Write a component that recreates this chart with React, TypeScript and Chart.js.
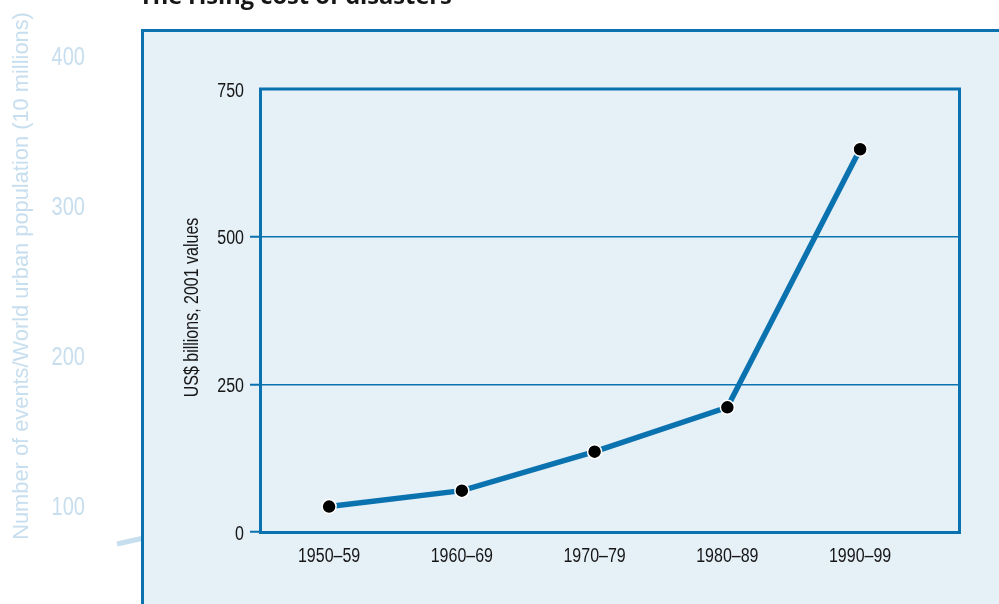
import React, { useEffect, useRef } from "react";
import { Chart, registerables } from "chart.js";

Chart.register(...registerables);

const chartTitle = "The rising cost of disasters";
const categories = ["1950–59", "1960–69", "1970–79", "1980–89", "1990–99"];
const costValues = [43, 70, 136, 211, 648];
const yTickValues = [0, 250, 500, 750];
const yAxisTitle = "US$ billions, 2001 values";
const bgAxisTicks = [400, 300, 200, 100];
const bgAxisTitle = "Number of events/World urban population (10 millions)";

const BLUE = "#0b72b0";
const PANEL = "#e5f0f7";
const FADED = "#c7deef";
const TEXT = "#161616";
const SANS = '"Liberation Sans", Arial, sans-serif';
const NARROW_X = 0.8; // horizontal squeeze to imitate a condensed face

function narrowText(
  ctx: CanvasRenderingContext2D,
  text: string,
  x: number,
  y: number,
  align: CanvasTextAlign,
  rotate = 0
) {
  ctx.save();
  ctx.translate(x, y);
  if (rotate) ctx.rotate(rotate);
  ctx.scale(NARROW_X, 1);
  ctx.textAlign = align;
  ctx.textBaseline = "alphabetic";
  ctx.fillText(text, 0, 0);
  ctx.restore();
}

const decorPlugin = {
  id: "decor",
  beforeDraw(chart: any) {
    const { ctx } = chart;
    ctx.save();
    ctx.fillStyle = "#ffffff";
    ctx.fillRect(0, 0, chart.width, chart.height);

    // faded background axis (behind the panel)
    ctx.fillStyle = FADED;
    ctx.font = `26px ${SANS}`;
    bgAxisTicks.forEach((v) => {
      ctx.save();
      ctx.translate(85, 64.5 + (400 - v) * 1.5);
      ctx.scale(0.77, 1);
      ctx.textAlign = "right";
      ctx.textBaseline = "alphabetic";
      ctx.fillText(String(v), 0, 0);
      ctx.restore();
    });

    ctx.save();
    ctx.translate(22, 276);
    ctx.rotate(-Math.PI / 2);
    ctx.font = `22px ${SANS}`;
    const w = ctx.measureText(bgAxisTitle).width;
    const fs = (22 * 528) / w;
    ctx.font = `${fs}px ${SANS}`;
    ctx.textAlign = "center";
    ctx.textBaseline = "middle";
    ctx.fillText(bgAxisTitle, 0, 0);
    ctx.restore();

    ctx.strokeStyle = FADED;
    ctx.lineWidth = 5;
    ctx.beginPath();
    ctx.moveTo(117, 544);
    ctx.lineTo(146, 537.5);
    ctx.stroke();

    // panel
    ctx.fillStyle = PANEL;
    ctx.fillRect(142.5, 30.5, 1000, 1000);
    ctx.strokeStyle = BLUE;
    ctx.lineWidth = 3;
    ctx.strokeRect(142.5, 30.5, 1000, 1000);

    // title (cut off at top)
    ctx.fillStyle = TEXT;
    ctx.font = `bold 20px "Open Sans", sans-serif`;
    const tw = ctx.measureText(chartTitle).width;
    const tfs = (20 * 313) / tw;
    ctx.font = `bold ${tfs}px "Open Sans", sans-serif`;
    ctx.textAlign = "left";
    ctx.textBaseline = "alphabetic";
    ctx.fillText(chartTitle, 139, 4);
    ctx.restore();
  },
  beforeDatasetsDraw(chart: any) {
    const { ctx, chartArea: a } = chart;
    ctx.save();
    ctx.strokeStyle = BLUE;
    ctx.lineWidth = 3;
    ctx.strokeRect(a.left + 0.5, a.top, a.right - a.left - 1, a.bottom - a.top + 0.5);
    ctx.restore();
  },
  afterDraw(chart: any) {
    const { ctx, chartArea: a } = chart;
    const xs = chart.scales.x;
    const ys = chart.scales.y;
    ctx.save();
    ctx.fillStyle = TEXT;
    ctx.font = `20px ${SANS}`;
    ys.ticks.forEach((t: any) => {
      const py = ys.getPixelForValue(t.value);
      narrowText(ctx, String(t.value), a.left - 16, py + 7.5, "right");
    });
    xs.ticks.forEach((t: any) => {
      const px = xs.getPixelForValue(t.value);
      narrowText(ctx, categories[t.value], px, a.bottom + 30, "center");
    });
    narrowText(ctx, yAxisTitle, 198, (a.top + a.bottom) / 2 - 3, "center", -Math.PI / 2);
    ctx.restore();
  },
};

export default function App() {
  const ref = useRef<HTMLCanvasElement>(null);
  useEffect(() => {
    const chart = new Chart(ref.current as HTMLCanvasElement, {
      type: "line",
      data: {
        datasets: [
          {
            data: categories.map((c, i) => ({ x: i, y: costValues[i] })),
            borderColor: BLUE,
            borderWidth: 5.5,
            pointRadius: 7,
            pointBackgroundColor: "#000000",
            pointBorderColor: "#ffffff",
            pointBorderWidth: 1.5,
            tension: 0,
          },
        ],
      },
      options: {
        responsive: false,
        animation: false,
        events: [],
        layout: { padding: { left: 170, top: 89, right: 39, bottom: 0 } },
        plugins: { legend: { display: false }, tooltip: { enabled: false } },
        scales: {
          x: {
            type: "linear",
            min: -0.5205,
            max: 4.7525,
            afterFit: (s: any) => {
              s.height = 72;
            },
            afterBuildTicks: (s: any) => {
              s.ticks = categories.map((_, i) => ({ value: i }));
            },
            grid: { display: false },
            border: { display: false },
            ticks: { display: false },
          },
          y: {
            min: 0,
            max: 750,
            afterFit: (s: any) => {
              s.width = 90;
            },
            afterBuildTicks: (s: any) => {
              s.ticks = yTickValues.map((v) => ({ value: v }));
            },
            grid: {
              color: (c: any) =>
                c.tick && (c.tick.value === 0 || c.tick.value === 750) ? "rgba(0,0,0,0)" : BLUE,
              lineWidth: 1.5,
              tickLength: 10,
              tickWidth: 2,
              tickColor: (c: any) => (c.tick && c.tick.value === 750 ? "rgba(0,0,0,0)" : BLUE),
            },
            border: { display: false },
            ticks: { display: false },
            title: { display: false },
          },
        },
      },
      plugins: [decorPlugin],
    } as any);
    return () => chart.destroy();
  }, []);
  return (
    <div style={{ position: "fixed", left: 0, top: 0, width: 999, height: 604, background: "#fff" }}>
      <canvas ref={ref} width={999} height={604} style={{ display: "block", width: 999, height: 604 }} />
    </div>
  );
}
